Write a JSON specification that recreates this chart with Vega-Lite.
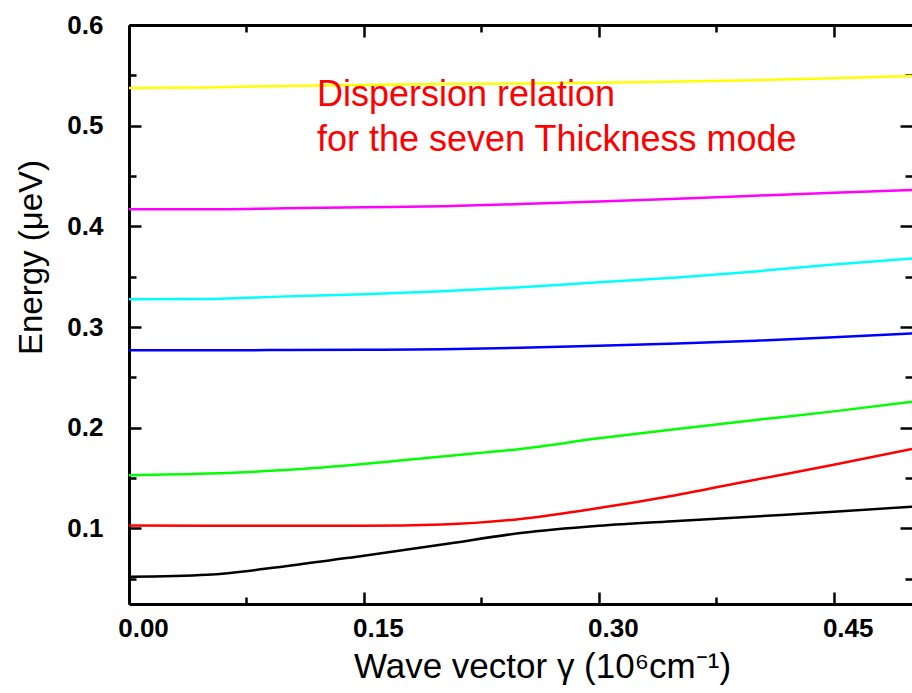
{
  "$schema": "https://vega.github.io/schema/vega-lite/v6.json",
  "autosize": {"type": "none"},
  "padding": {"left": 129, "top": 25, "right": 0, "bottom": 89},
  "width": 783,
  "height": 579,
  "background": "white",
  "config": {"view": {"stroke": null}, "axis": {"grid": false}},
  "datasets": {
    "curves": [
      {"mode": "1", "k": 0.0, "E": 0.0520}, {"mode": "1", "k": 0.05, "E": 0.0540}, {"mode": "1", "k": 0.1, "E": 0.0625}, {"mode": "1", "k": 0.15, "E": 0.0730}, {"mode": "1", "k": 0.2, "E": 0.0840}, {"mode": "1", "k": 0.25, "E": 0.0955}, {"mode": "1", "k": 0.3, "E": 0.1027}, {"mode": "1", "k": 0.35, "E": 0.1075}, {"mode": "1", "k": 0.4, "E": 0.1120}, {"mode": "1", "k": 0.45, "E": 0.1165}, {"mode": "1", "k": 0.5, "E": 0.1217},
      {"mode": "2", "k": 0.0, "E": 0.1030}, {"mode": "2", "k": 0.05, "E": 0.1028}, {"mode": "2", "k": 0.1, "E": 0.1028}, {"mode": "2", "k": 0.15, "E": 0.1028}, {"mode": "2", "k": 0.2, "E": 0.1040}, {"mode": "2", "k": 0.25, "E": 0.1095}, {"mode": "2", "k": 0.3, "E": 0.1203}, {"mode": "2", "k": 0.35, "E": 0.1333}, {"mode": "2", "k": 0.4, "E": 0.1484}, {"mode": "2", "k": 0.45, "E": 0.1633}, {"mode": "2", "k": 0.5, "E": 0.1789},
      {"mode": "3", "k": 0.0, "E": 0.1528}, {"mode": "3", "k": 0.05, "E": 0.1545}, {"mode": "3", "k": 0.1, "E": 0.1580}, {"mode": "3", "k": 0.15, "E": 0.1640}, {"mode": "3", "k": 0.2, "E": 0.1715}, {"mode": "3", "k": 0.25, "E": 0.1790}, {"mode": "3", "k": 0.3, "E": 0.1895}, {"mode": "3", "k": 0.35, "E": 0.1989}, {"mode": "3", "k": 0.4, "E": 0.2077}, {"mode": "3", "k": 0.45, "E": 0.2163}, {"mode": "3", "k": 0.5, "E": 0.2259},
      {"mode": "4", "k": 0.0, "E": 0.2770}, {"mode": "4", "k": 0.05, "E": 0.2770}, {"mode": "4", "k": 0.1, "E": 0.2772}, {"mode": "4", "k": 0.15, "E": 0.2775}, {"mode": "4", "k": 0.2, "E": 0.2780}, {"mode": "4", "k": 0.25, "E": 0.2795}, {"mode": "4", "k": 0.3, "E": 0.2815}, {"mode": "4", "k": 0.35, "E": 0.2838}, {"mode": "4", "k": 0.4, "E": 0.2865}, {"mode": "4", "k": 0.45, "E": 0.2898}, {"mode": "4", "k": 0.5, "E": 0.2938},
      {"mode": "5", "k": 0.0, "E": 0.3276}, {"mode": "5", "k": 0.05, "E": 0.3280}, {"mode": "5", "k": 0.1, "E": 0.3305}, {"mode": "5", "k": 0.15, "E": 0.3325}, {"mode": "5", "k": 0.2, "E": 0.3357}, {"mode": "5", "k": 0.25, "E": 0.3395}, {"mode": "5", "k": 0.3, "E": 0.3445}, {"mode": "5", "k": 0.35, "E": 0.3493}, {"mode": "5", "k": 0.4, "E": 0.3553}, {"mode": "5", "k": 0.45, "E": 0.3622}, {"mode": "5", "k": 0.5, "E": 0.3680},
      {"mode": "6", "k": 0.0, "E": 0.4170}, {"mode": "6", "k": 0.05, "E": 0.4170}, {"mode": "6", "k": 0.1, "E": 0.4180}, {"mode": "6", "k": 0.15, "E": 0.4190}, {"mode": "6", "k": 0.2, "E": 0.4200}, {"mode": "6", "k": 0.25, "E": 0.4222}, {"mode": "6", "k": 0.3, "E": 0.4247}, {"mode": "6", "k": 0.35, "E": 0.4275}, {"mode": "6", "k": 0.4, "E": 0.4305}, {"mode": "6", "k": 0.45, "E": 0.4335}, {"mode": "6", "k": 0.5, "E": 0.4361},
      {"mode": "7", "k": 0.0, "E": 0.5374}, {"mode": "7", "k": 0.05, "E": 0.5380}, {"mode": "7", "k": 0.1, "E": 0.5395}, {"mode": "7", "k": 0.15, "E": 0.5405}, {"mode": "7", "k": 0.2, "E": 0.5413}, {"mode": "7", "k": 0.25, "E": 0.5420}, {"mode": "7", "k": 0.3, "E": 0.5427}, {"mode": "7", "k": 0.35, "E": 0.5438}, {"mode": "7", "k": 0.4, "E": 0.5452}, {"mode": "7", "k": 0.45, "E": 0.5470}, {"mode": "7", "k": 0.5, "E": 0.5493}
    ],
    "notes": [
      {"k": 0.12, "E": 0.5195, "label": "Dispersion relation"},
      {"k": 0.12, "E": 0.4748, "label": "for the seven Thickness mode"}
    ]
  },
  "layer": [
    {
      "data": {"name": "curves"},
      "mark": {"type": "line", "strokeWidth": 2.5, "interpolate": "monotone", "clip": true},
      "encoding": {
        "x": {
          "field": "k", "type": "quantitative",
          "scale": {"domain": [0, 0.5], "nice": false, "zero": false},
          "axis": {
            "orient": "bottom",
            "title": "Wave vector γ (10⁶cm⁻¹)",
            "values": [0, 0.075, 0.15, 0.225, 0.3, 0.375, 0.45],
            "labelExpr": "abs(datum.value/0.15 - round(datum.value/0.15)) < 0.001 ? format(datum.value, '.2f') : ''",
            "tickSize": {"condition": {"test": "abs(datum.value/0.15 - round(datum.value/0.15)) < 0.001", "value": -12}, "value": -7},
            "tickWidth": 2.5, "tickColor": "black",
            "domainColor": "black", "domainWidth": 3,
            "labelFont": "Liberation Sans", "labelFontWeight": "bold", "labelFontSize": 26, "labelColor": "black",
            "labelPadding": 23, "labelOffset": 14, "labelFlush": false, "labelOverlap": false,
            "titleFont": "Liberation Sans", "titleFontWeight": "normal", "titleFontSize": 35, "titleColor": "black",
            "titleX": 413, "titleY": 73, "titleBaseline": "alphabetic"
          }
        },
        "y": {
          "field": "E", "type": "quantitative",
          "scale": {"domain": [0.025, 0.6], "nice": false, "zero": false},
          "axis": {
            "orient": "left",
            "title": "Energy (μeV)",
            "values": [0.05, 0.1, 0.15, 0.2, 0.25, 0.3, 0.35, 0.4, 0.45, 0.5, 0.55, 0.6],
            "labelExpr": "abs(datum.value*10 - round(datum.value*10)) < 0.001 ? format(datum.value, '.1f') : ''",
            "tickSize": {"condition": {"test": "abs(datum.value*10 - round(datum.value*10)) < 0.001", "value": -12}, "value": -7},
            "tickWidth": 2.5, "tickColor": "black",
            "domainColor": "black", "domainWidth": 3,
            "labelFont": "Liberation Sans", "labelFontWeight": "bold", "labelFontSize": 26, "labelColor": "black",
            "labelPadding": 38, "labelFlush": false, "labelOverlap": false,
            "titleFont": "Liberation Sans", "titleFontWeight": "normal", "titleFontSize": 33, "titleColor": "black",
            "titleX": -88, "titleY": 232, "titleBaseline": "alphabetic", "titleAngle": -90
          }
        },
        "color": {
          "field": "mode", "type": "nominal",
          "scale": {"domain": ["1", "2", "3", "4", "5", "6", "7"], "range": ["#000000", "#ff0000", "#00ff00", "#0000ff", "#00ffff", "#ff00ff", "#ffff00"]},
          "legend": null
        }
      }
    },
    {
      "data": {"name": "notes"},
      "mark": {"type": "text", "align": "left", "baseline": "alphabetic", "font": "Liberation Sans", "fontSize": 36, "color": "#ff0000"},
      "encoding": {
        "x": {
          "field": "k", "type": "quantitative",
          "scale": {"domain": [0, 0.5], "nice": false, "zero": false},
          "axis": {
            "orient": "top", "title": null, "labels": false,
            "values": [0, 0.075, 0.15, 0.225, 0.3, 0.375, 0.45],
            "tickSize": {"condition": {"test": "abs(datum.value/0.15 - round(datum.value/0.15)) < 0.001", "value": -12}, "value": -7},
            "tickWidth": 2.5, "tickColor": "black",
            "domainColor": "black", "domainWidth": 3
          }
        },
        "y": {
          "field": "E", "type": "quantitative",
          "scale": {"domain": [0.025, 0.6], "nice": false, "zero": false},
          "axis": {
            "orient": "right", "title": null, "labels": false, "domain": false,
            "values": [0.05, 0.1, 0.15, 0.2, 0.25, 0.3, 0.35, 0.4, 0.45, 0.5, 0.55, 0.6],
            "tickSize": {"condition": {"test": "abs(datum.value*10 - round(datum.value*10)) < 0.001", "value": -12}, "value": -7},
            "tickWidth": 2.5, "tickColor": "black"
          }
        },
        "text": {"field": "label"}
      }
    }
  ],
  "resolve": {"axis": {"x": "independent", "y": "independent"}}
}
